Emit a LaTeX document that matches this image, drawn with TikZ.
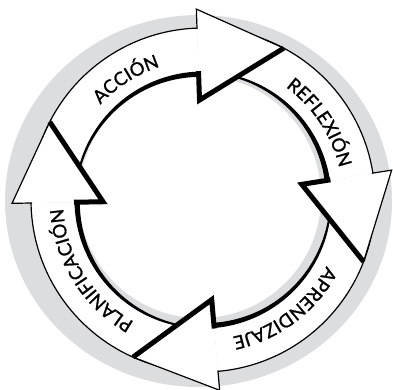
\documentclass[tikz,border=0pt]{standalone}
\usepackage{fontspec}
\newfontfamily\lbl{Lato}[FakeBold=1.2]
\usetikzlibrary{decorations.text}
\definecolor{ringgray}{RGB}{220,221,223}
\tikzset{
  thinedge/.style={line width=1.2pt, line join=miter},
  thickedge/.style={line width=5pt, line join=miter, miter limit=20},
  arclabel/.style={decorate, decoration={text along path, text align=center, text={|\lbl\fontsize{18.5}{18.5}\selectfont|#1}}}
}
\newcommand\arrowbody[2]{%
  \fill[white] (#1:172) arc[start angle=#1, end angle=#2, radius=172] -- (#2:127.5) arc[start angle=#2, end angle=#1, radius=127.5] -- cycle;
  \draw[thinedge] (#1:172) arc[start angle=#1, end angle=#2, radius=172];
  \fill[black] plot[domain=#1:#2, samples=80] (\x:128.5) -- plot[domain=#2:#1, samples=80] (\x:{127-3.8*(\x-(#1))/((#2)-(#1))}) -- cycle;
}
\newcommand\arrowtip[2]{%
  \fill[white] (#1:191) -- (#2:172) -- (#1:100) -- cycle;
  \draw[thinedge] (#1:171) -- (#1:191) -- (#2:172);
  \draw[thickedge] (#2:172) -- (#1:100) -- (#1:129);
}
\begin{document}
\begin{tikzpicture}[x=1pt,y=1pt]
\useasboundingbox (0,0) rectangle (393,389);
\fill[ringgray] (198.5,188) ellipse [x radius=193.5, y radius=186];
\fill[white] (200,192) circle [radius=121];
\begin{scope}[shift={(203,189)}]
  % bodies
  \arrowbody{175}{92}
  \arrowbody{86}{9}
  \arrowbody{3}{-85}
  \arrowbody{269}{181}
  % heads
  \arrowtip{92}{62}
  \arrowtip{9}{-21}
  \arrowtip{-85}{-114}
  \arrowtip{181}{153}
  % labels
  \path[arclabel=ACCIÓN] (160:140) arc[start angle=160, end angle=85, radius=140];
  \path[arclabel=REFLEXIÓN] (71:140) arc[start angle=71, end angle=-4, radius=140];
  \path[arclabel=APRENDIZAJE] (-16:140) arc[start angle=-16, end angle=-90, radius=140];
  \path[arclabel=PLANIFICACIÓN] (250:140) arc[start angle=250, end angle=174, radius=140];
\end{scope}
\end{tikzpicture}
\end{document}
